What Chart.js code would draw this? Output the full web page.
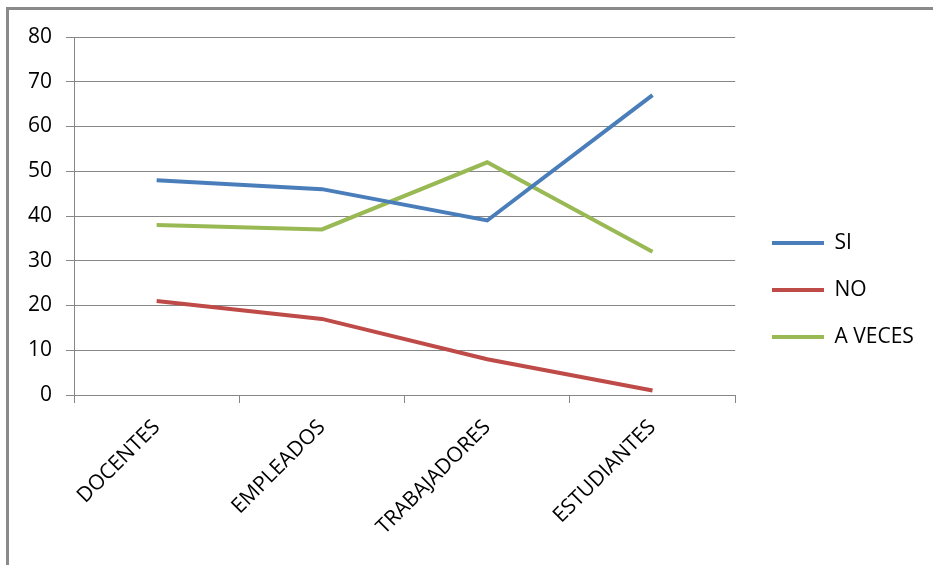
<!DOCTYPE html>
<html>
<head>
<meta charset="utf-8">
<script src="https://cdn.jsdelivr.net/npm/chart.js@4/dist/chart.umd.min.js"></script>
<style>
  body { margin: 0; background: #fff; }
  #marco { position: absolute; left: 6px; top: 7px; width: 927px; height: 558px;
           border-top: 3px solid #8a8a8a; border-left: 3px solid #8a8a8a; }
</style>
</head>
<body>
<div id="marco"><canvas id="miCanvas" width="924" height="555"></canvas></div>
<script>
// datos
const categorias = ["DOCENTES", "EMPLEADOS", "TRABAJADORES", "ESTUDIANTES"];
const si = [48, 46, 39, 67];
const no = [21, 17, 8, 1];
const aVeces = [38, 37, 52, 32];
const ticksY = [0, 10, 20, 30, 40, 50, 60, 70, 80];

const fuente = "'Open Sans', sans-serif";
const gris = "#878787";

function serie(nombre, valores, color) {
  return {
    label: nombre,
    data: valores,
    borderColor: color,
    backgroundColor: color,
    borderWidth: 4,
    pointRadius: 0,
    tension: 0,
  };
}

// mueve la leyenda un poco respecto al area del grafico
const moverLeyenda = {
  id: "moverLeyenda",
  afterLayout(chart) {
    const l = chart.legend;
    const dx = 737 - l.left;
    const dy = -11;
    l.left += dx; l.right += dx;
    l.top += dy; l.bottom += dy;
  },
};

const ctx = document.getElementById("miCanvas");
const grafico = new Chart(ctx, {
  type: "line",
  data: {
    labels: categorias,
    datasets: [
      serie("SI", si, "#4a7ebb"),
      serie("NO", no, "#be4b48"),
      serie("A VECES", aVeces, "#98b954"),
    ],
  },
  plugins: [moverLeyenda],
  options: {
    responsive: false,
    animation: false,
    layout: { padding: { top: 27, left: 0, bottom: 0, right: 20 } },
    scales: {
      x: {
        offset: true,
        grid: { offset: true, drawOnChartArea: false, color: gris, tickLength: 8 },
        border: { color: gris },
        ticks: {
          color: "#000",
          font: { family: fuente, size: 21 },
          maxRotation: 45,
          minRotation: 45,
          padding: 12,
        },
        afterFit: (s) => { s.height = 170; },
      },
      y: {
        min: 0,
        max: 80,
        afterBuildTicks: (s) => { s.ticks = ticksY.map((v) => ({ value: v })); },
        grid: { color: gris, tickLength: 8 },
        border: { color: gris },
        ticks: { color: "#000", font: { family: fuente, size: 21 }, padding: 14 },
        afterFit: (s) => { s.width = 65; },
      },
    },
    plugins: {
      tooltip: { enabled: false },
      legend: {
        position: "right",
        labels: {
          color: "#000",
          font: { family: fuente, size: 21 },
          boxWidth: 52,
          boxHeight: 4,
          padding: 26,
          generateLabels: (chart) =>
            Chart.defaults.plugins.legend.labels.generateLabels(chart).map((l) => ({ ...l, lineWidth: 0 })),
        },
      },
    },
  },
});
</script>
</body>
</html>
